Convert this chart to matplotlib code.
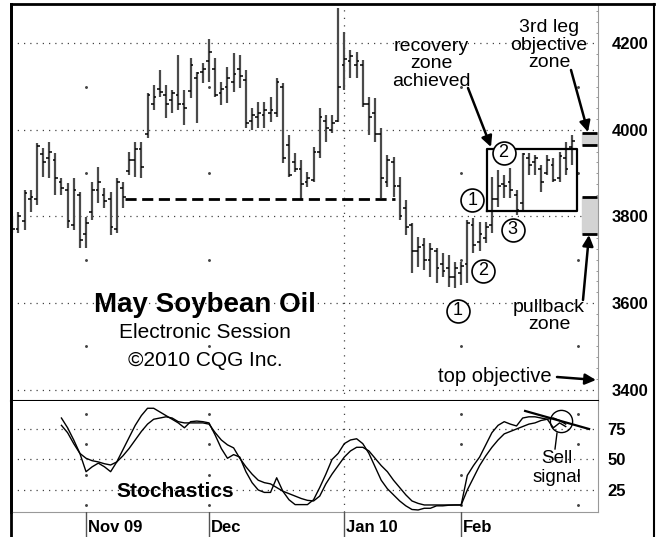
import matplotlib
matplotlib.use('Agg')
import matplotlib.pyplot as plt
from matplotlib.lines import Line2D
from matplotlib.patches import FancyArrowPatch
import numpy as np

plt.rcParams['font.family'] = ['Liberation Sans', 'DejaVu Sans']

# daily OHLC, Oct 15 2009 .. Feb 26 2010 (bar index 0..91)
highs = [3800, 3810, 3861, 3861, 3970, 3958, 3972, 3947, 3889, 3877, 3889, 3857, 3799, 3880, 3914, 3866,
         3857, 3889, 3880, 3949, 3972, 3972, 4085, 4104, 4139, 4104, 4092, 4173, 4092, 4166, 4134, 4155,
         4210, 4166, 4111, 4146, 4178, 4173, 4139, 4051, 4065, 4065, 4076, 4120, 4109, 3988, 3947, 3931,
         3903, 3961, 4051, 4035, 4035, 4282, 4227, 4185, 4180, 4162, 4076, 4074, 4005, 3942, 3938, 3891,
         3838, 3785, 3753, 3750, 3739, 3727, 3716, 3711, 3695, 3695, 3792, 3797, 3787, 3787, 3891, 3908,
         3896, 3912, 3861, 3947, 3947, 3942, 3919, 3942, 3935, 3949, 3972, 3988]
lows = [3762, 3762, 3769, 3810, 3827, 3891, 3889, 3850, 3850, 3773, 3769, 3727, 3727, 3792, 3831, 3820,
        3757, 3762, 3820, 3896, 3891, 3889, 3982, 4046, 4076, 4028, 4039, 4046, 4012, 4074, 4016, 4109,
        4111, 4076, 4058, 4062, 4088, 4097, 4005, 4000, 4005, 4005, 4018, 4030, 3924, 3891, 3903, 3840,
        3868, 3880, 3935, 3972, 3993, 4018, 4092, 4120, 4120, 4053, 3988, 3972, 3842, 3868, 3845, 3792,
        3757, 3669, 3683, 3676, 3660, 3646, 3660, 3637, 3635, 3642, 3646, 3716, 3720, 3739, 3762, 3822,
        3843, 3843, 3803, 3815, 3896, 3896, 3857, 3896, 3880, 3880, 3896, 3919]
opens = [3790, 3770, 3790, 3840, 3840, 3945, 3935, 3930, 3880, 3860, 3780, 3850, 3760, 3810, 3860, 3850,
         3840, 3770, 3865, 3905, 3930, 3955, 3990, 4060, 4095, 4080, 4070, 4080, 4060, 4090, 4120, 4135,
         4160, 4140, 4085, 4100, 4110, 4140, 4115, 4020, 4030, 4035, 4040, 4040, 4100, 3965, 3925, 3910,
         3880, 3885, 3950, 4020, 4000, 4020, 4150, 4160, 4150, 4150, 4060, 4040, 3990, 3880, 3925, 3870,
         3820, 3780, 3720, 3735, 3700, 3720, 3690, 3680, 3660, 3670, 3690, 3780, 3740, 3750, 3780, 3840,
         3875, 3880, 3850, 3830, 3935, 3925, 3910, 3900, 3920, 3890, 3935, 3960]
closes = [3770, 3800, 3855, 3845, 3962, 3925, 3950, 3890, 3865, 3790, 3860, 3745, 3785, 3860, 3880, 3835,
          3775, 3880, 3845, 3930, 3955, 3915, 4080, 4075, 4088, 4060, 4085, 4060, 4050, 4150, 4132, 4140,
          4180, 4080, 4095, 4120, 4130, 4125, 4015, 4035, 4040, 4045, 4045, 4110, 3935, 3895, 3910, 3875,
          3890, 3950, 4030, 4005, 4015, 4100, 4165, 4170, 4160, 4060, 4030, 3990, 3890, 3930, 3870, 3800,
          3775, 3720, 3730, 3700, 3725, 3680, 3675, 3660, 3680, 3685, 3785, 3735, 3760, 3775, 3840, 3870,
          3870, 3860, 3815, 3945, 3920, 3935, 3880, 3930, 3885, 3940, 3910, 3975]

# stochastics, bars 8..90
stoch_start = 8
stoch_k = [84, 76, 66, 55, 40, 44, 47, 44, 40, 48, 58, 68, 78, 86, 92, 92, 89, 86, 83, 80, 76, 81, 81.5,
           81, 80, 70, 59, 51, 54, 52, 40, 31, 25, 23, 23, 35, 24, 17, 13, 13, 13, 17, 27, 38, 50, 55, 63,
           66, 67, 63, 55, 44, 33, 26, 21, 16, 12, 9, 8.6, 10, 10, 12, 12, 12.5, 12.7, 12.7, 37, 45, 52, 62,
           72, 78, 81, 79, 77.5, 84, 85, 85, 84, 83, 76, 80, 77]
stoch_d = [78, 72, 63, 55, 51, 49, 48, 46.5, 45.5, 48, 53, 59, 66, 73, 79, 83, 84, 85, 84, 81, 80, 80, 80,
           80, 79, 72, 66, 62, 59.5, 51, 44, 38, 33, 31, 30, 27, 24, 22, 20, 18, 16.5, 16, 20, 30, 38, 45,
           52, 57, 60, 60, 57, 51, 45, 40, 33, 27, 21, 16, 14, 12.7, 12.7, 12.7, 12.7, 12.7, 12.7,
           12.7, 25, 35, 45, 53, 60, 66, 71, 73, 75, 77, 79, 80, 82, 83, 84, 82, 79]

month_labels = ['Nov 09', 'Dec', 'Jan 10', 'Feb']
month_pos = [12, 32, 54, 73]
grid_cols = [12, 32, 73, 92]      # sparse dotted columns (Jan 10 is drawn full)
price_ticks = [3400, 3600, 3800, 4000, 4200]
stoch_ticks = [25, 50, 75]

W, H = 663, 537
fig = plt.figure(figsize=(W / 100, H / 100), dpi=100)


def fx(x):
    return x / W


def fy(y):
    return 1 - y / H


ax = fig.add_axes([fx(11), fy(401), (598 - 11) / W, (401 - 4) / H])
ax2 = fig.add_axes([fx(11), fy(512), (598 - 11) / W, (512 - 401) / H])
ax3 = fig.add_axes([fx(11), 0, (598 - 11) / W, 25 / H])

xs = np.arange(len(highs))
xlim = (-0.2, 95.25)

# ---- price panel ----
ax.vlines(xs, lows, highs, color='#4a4a4a', lw=1.6, zorder=3)
ax.hlines(opens, xs - 0.45, xs, color='black', lw=1.1, zorder=3)
ax.hlines(closes, xs, xs + 0.45, color='black', lw=1.1, zorder=3)

for lv in price_ticks:
    ax.axhline(lv, color='#444444', lw=0.9, ls=(0, (1, 4)), zorder=1)
ax.axvline(54, color='#444444', lw=0.9, ls=(0, (1, 5)), zorder=1)
for c in grid_cols:
    ax.scatter([c] * 5, [3300, 3500, 3700, 3900, 4100], s=1.2, color='#444444', zorder=1)

ax.hlines(3840, 18.3, 62.2, color='black', lw=2, linestyles=(0, (4, 2)), zorder=4)

# recovery box
ax.plot([77.2, 91.8, 91.8, 77.2, 77.2], [3813, 3813, 3956, 3956, 3813], color='black', lw=1.6, zorder=4)

# objective zones on the right
ax.fill_between([92.65, 95.1], 3965, 3993, color='#d3d3d3', zorder=2)
ax.hlines([3965, 3993], 92.65, 95.1, color='black', lw=2, zorder=3)
ax.fill_between([92.65, 95.1], 3760, 3845, color='#d3d3d3', zorder=2)
ax.hlines([3760, 3845], 92.65, 95.1, color='black', lw=2, zorder=3)

# numbered circles
circ_x = [79.9, 74.8, 81.4, 76.5, 72.5]
circ_y = [3947, 3838, 3769, 3674, 3582]
circ_t = ['2', '1', '3', '2', '1']
ax.plot(circ_x, circ_y, 'o', ms=16.5, mfc='white', mec='black', mew=1.2, zorder=6)
for cx, cy, t in zip(circ_x, circ_y, circ_t):
    ax.text(cx, cy, t, ha='center', va='center', fontsize=13, zorder=7)

ax.set_xlim(*xlim)
ax.set_ylim(3373.5, 4291)
ax.set_xticks([])
ax.yaxis.tick_right()
ax.set_yticks(price_ticks)
ax.set_yticklabels([str(v) for v in price_ticks], fontsize=12, fontweight='bold')
ax.set_yticks(np.arange(3400, 4300, 25), minor=True)
ax.tick_params(axis='y', which='major', length=0, pad=10)
ax.tick_params(axis='y', which='minor', length=1.5, color='#888888', direction='in')
ax.spines['left'].set_linewidth(2)
ax.spines['top'].set_visible(False)
ax.spines['right'].set_color('#999999')
ax.spines['bottom'].set_linewidth(1.5)

# ---- stochastics ----
sx = np.arange(stoch_start, stoch_start + len(stoch_k))
ax2.plot(sx, stoch_k, color='black', lw=1.0)
ax2.plot(sx, stoch_d, color='black', lw=1.0)
for lv in stoch_ticks:
    ax2.axhline(lv, color='#444444', lw=0.9, ls=(0, (1, 4)), zorder=1)
ax2.axvline(54, color='#444444', lw=0.9, ls=(0, (1, 5)), zorder=1)
for c in grid_cols:
    ax2.scatter([c] * 4, [12.5, 37.5, 62.5, 87.5], s=1.2, color='#444444', zorder=1)
ax2.plot([83.4, 93.8], [89.8, 75], color='black', lw=1.6)
ax2.plot([89.2], [81.5], 'o', ms=16, mfc='none', mec='black', mew=1.0)
ax2.set_xlim(*xlim)
ax2.set_ylim(6.94, 97.96)
ax2.set_xticks([])
ax2.yaxis.tick_right()
ax2.set_yticks(stoch_ticks)
ax2.set_yticklabels([str(v) for v in stoch_ticks], fontsize=12, fontweight='bold')
ax2.tick_params(axis='y', length=0, pad=7)
ax2.spines['left'].set_linewidth(2)
ax2.spines['top'].set_visible(False)
ax2.spines['right'].set_color('#999999')
ax2.spines['bottom'].set_color('#999999')

# ---- date strip ----
ax3.set_xlim(*xlim)
ax3.set_ylim(0, 1)
ax3.axis('off')
for p, lab in zip(month_pos, month_labels):
    ax3.axvline(p, color='#555555', lw=1)
    ax3.text(p + 0.35, 0.2, lab, fontsize=12, fontweight='bold', ha='left', va='baseline')


# ---- text & arrows (figure pixels) ----
def ftext(x, y, s, **kw):
    fig.text(fx(x), fy(y), s, va='baseline', **kw)


def fblock(x, top, s, size, ls):
    fig.text(fx(x), fy(top), s, va='top', ha='center', multialignment='center',
             fontsize=size, linespacing=ls)


ftext(205, 312, 'May Soybean Oil', fontsize=20, fontweight='bold', ha='center')
ftext(205, 338, 'Electronic Session', fontsize=15, ha='center')
ftext(205, 366, '\u00a92010 CQG Inc.', fontsize=15, ha='center')
ftext(175, 497, 'Stochastics', fontsize=15, fontweight='bold', ha='center')

fblock(431, 38, 'recovery\nzone\nachieved', 14, 1.02)
fblock(549, 19, '3rd leg\nobjective\nzone', 14, 1.05)
fblock(549, 299, 'pullback\nzone', 14, 0.98)
fblock(557, 450, 'Sell\nsignal', 13.5, 1.12)
ftext(438, 382, 'top objective', fontsize=14.5, ha='left')

arrow = dict(arrowstyle='-|>', color='black', lw=1.8, mutation_scale=16, shrinkA=0, shrinkB=0)
for (x0, y0), (x1, y1) in [((468, 88), (491, 147)), ((571, 70), (588, 132)),
                           ((583, 300), (589, 235)), ((557, 377), (596, 380))]:
    fig.add_artist(FancyArrowPatch((fx(x0), fy(y0)), (fx(x1), fy(y1)),
                                   transform=fig.transFigure, **arrow))
fig.add_artist(Line2D([fx(557), fx(555)], [fy(433), fy(449)], color='black', lw=1))

# outer frame
fig.add_artist(Line2D([fx(11), fx(654)], [fy(4), fy(4)], color='black', lw=2))
fig.add_artist(Line2D([fx(654), fx(654)], [fy(4), fy(537)], color='black', lw=1.5))
fig.add_artist(Line2D([fx(11), fx(11)], [fy(4), fy(537)], color='black', lw=2))

fig.savefig('out.png', dpi=100)
